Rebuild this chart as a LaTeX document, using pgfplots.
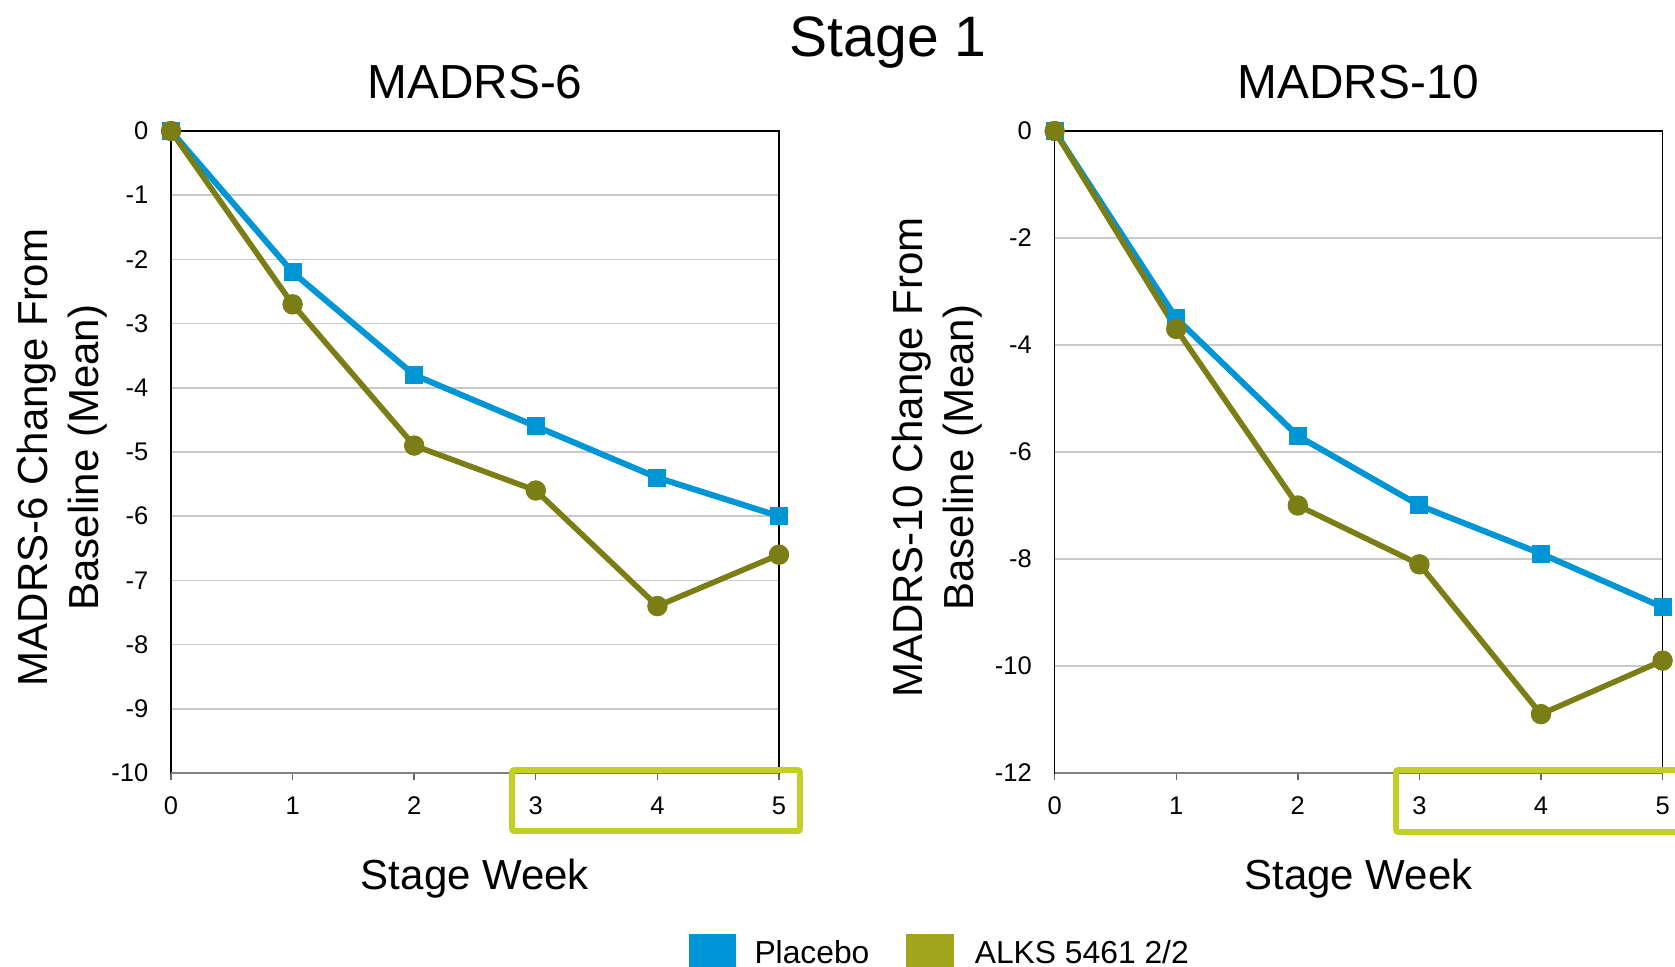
\documentclass[border=0pt]{standalone}
\usepackage{fontspec}
\setmainfont{Liberation Sans}
\usepackage{pgfplots}
\pgfplotsset{compat=1.18}
\definecolor{cblue}{RGB}{0,150,214}
\definecolor{colive}{RGB}{122,126,20}
\definecolor{lgreen}{RGB}{160,166,26}
\definecolor{hgreen}{RGB}{194,207,38}
\pgfplotsset{
  every axis title shift=0pt,
  panel/.style={
    scale only axis, width=304pt, height=321pt,
    xmin=0, xmax=5, xtick={0,1,2,3,4,5}, xticklabels={0,1,2,3,4,5},
    /pgf/number format/assume math mode=true,
    clip=false,
    axis line style={black, line width=0.75pt},
    ymajorgrids, grid style={gray!42, line width=0.8pt},
    tick align=outside, xtick pos=lower, ytick pos=left,
    ytick style={draw=none},
    xtick style={draw=gray!80!black, line width=0.7pt},
    major tick length=3.5pt,
    ticklabel style={font=\fontsize{12.75}{15}\selectfont},
    xticklabel style={anchor=base, inner sep=0pt, yshift=-17.5pt},
    yticklabel style={anchor=east, inner sep=0pt, xshift=-7.7pt},
    title style={at={(axis description cs:0.5,1)}, anchor=base, yshift=16pt, font=\fontsize{23.9}{28}\selectfont},
    xlabel style={at={(axis description cs:0.5,0)}, anchor=base, yshift=-58.5pt, font=\fontsize{21}{25.5}\selectfont},
    xlabel={Stage Week},
  },
  pl/.style={cblue, line width=3pt, mark=square*, mark size=4.25pt, mark options={line width=0.5pt}},
  al/.style={colive, line width=2.8pt, mark=*, mark size=4.85pt, mark options={line width=0.5pt}},
}
\begin{document}
\begin{tikzpicture}[x=1pt,y=1pt]
\useasboundingbox (0,0) rectangle (837.5,483.5);
\node[anchor=base, font=\fontsize{28.5}{34}\selectfont] at (444,455) {Stage 1};
\begin{axis}[panel, at={(85.5pt,97pt)}, anchor=south west,
  ymin=-10, ymax=0, ytick={-10,-9,-8,-7,-6,-5,-4,-3,-2,-1,0},
  yticklabels={-10,-9,-8,-7,-6,-5,-4,-3,-2,-1,0},
  title={MADRS-6},
  ylabel={MADRS-6 Change From\\Baseline (Mean)},
  ylabel style={align=center, font=\fontsize{21}{25.5}\selectfont, at={(axis description cs:-0.1786,0.4914)}, anchor=center},
  legend columns=2,
  legend style={at={(axis description cs:0.8512,-0.2512)}, anchor=north west, draw=none, fill=none, inner sep=0pt, outer sep=0pt,
    font=\fontsize{15.9}{19}\selectfont, nodes={inner sep=0pt},
    /tikz/every even column/.append style={column sep=18.4pt}},
]
\draw[gray, line width=1pt] (rel axis cs:0,0) -- (rel axis cs:1,0);
\addplot[pl, forget plot] coordinates {(0,0) (1,-2.2) (2,-3.8) (3,-4.6) (4,-5.4) (5,-6.0)};
\addplot[al, forget plot] coordinates {(0,0) (1,-2.7) (2,-4.9) (3,-5.6) (4,-7.4) (5,-6.6)};
\addlegendimage{legend image code/.code={\fill[cblue] (0pt,-13.7pt) rectangle (23.25pt,9.55pt); \path (32.6pt,0pt);}}
\addlegendentry{Placebo}
\addlegendimage{legend image code/.code={\fill[lgreen] (0pt,-13.7pt) rectangle (23.25pt,9.55pt); \path (33.9pt,0pt);}}
\addlegendentry{ALKS 5461 2/2}
\end{axis}
\begin{axis}[panel, at={(527.3pt,97pt)}, anchor=south west,
  ymin=-12, ymax=0, ytick={-12,-10,-8,-6,-4,-2,0},
  yticklabels={-12,-10,-8,-6,-4,-2,0},
  title={MADRS-10},
  ylabel={MADRS-10 Change From\\Baseline (Mean)},
  ylabel style={align=center, font=\fontsize{21}{25.5}\selectfont, at={(axis description cs:-0.1928,0.4914)}, anchor=center},
]
\draw[gray, line width=1pt] (rel axis cs:0,0) -- (rel axis cs:1,0);
\addplot[pl] coordinates {(0,0) (1,-3.5) (2,-5.7) (3,-7.0) (4,-7.9) (5,-8.9)};
\addplot[al] coordinates {(0,0) (1,-3.7) (2,-7.0) (3,-8.1) (4,-10.9) (5,-9.9)};
\end{axis}
\draw[hgreen, line width=2.8pt, rounded corners=1pt] (256,68) rectangle (400,98.5);
\draw[hgreen, line width=2.8pt, rounded corners=1pt] (698,67.5) rectangle (850,98.5);
\end{tikzpicture}
\end{document}
